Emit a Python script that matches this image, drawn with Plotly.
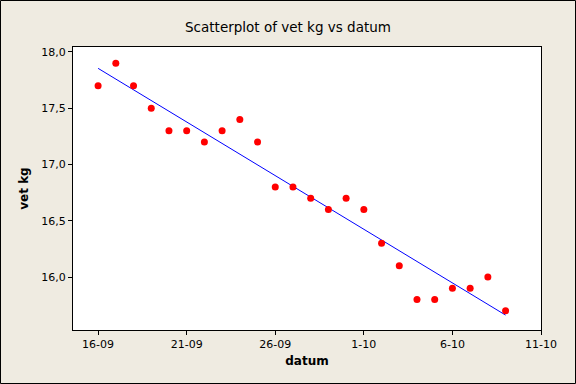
import numpy as np
import plotly.graph_objects as go

dates = ["2000-09-16", "2000-09-17", "2000-09-18", "2000-09-19", "2000-09-20", "2000-09-21",
         "2000-09-22", "2000-09-23", "2000-09-24", "2000-09-25", "2000-09-26", "2000-09-27",
         "2000-09-28", "2000-09-29", "2000-09-30", "2000-10-01", "2000-10-02", "2000-10-03",
         "2000-10-04", "2000-10-05", "2000-10-06", "2000-10-07", "2000-10-08", "2000-10-09"]
vet_kg = [17.7, 17.9, 17.7, 17.5, 17.3, 17.3, 17.2, 17.3, 17.4, 17.2, 16.8, 16.8,
          16.7, 16.6, 16.7, 16.6, 16.3, 16.1, 15.8, 15.8, 15.9, 15.9, 16.0, 15.7]
tick_dates = ["2000-09-16", "2000-09-21", "2000-09-26", "2000-10-01", "2000-10-06", "2000-10-11"]
tick_labels = ["16-09", "21-09", "26-09", "1-10", "6-10", "11-10"]
y_ticks = [16.0, 16.5, 17.0, 17.5, 18.0]

# regression line
d = np.array([np.datetime64(s) for s in dates])
days = (d - d[0]).astype(float)
slope, intercept = np.polyfit(days, np.array(vet_kg), 1)
fit_x = [dates[0], dates[-1]]
fit_y = [intercept, intercept + slope * days[-1]]

W, H = 576, 384
L, R, T, B = 73, 35, 47, 54
pw, ph = W - L - R, H - T - B

fig = go.Figure()
fig.add_trace(go.Scatter(x=fit_x, y=fit_y, mode="lines",
                         line=dict(color="#0000FF", width=1), hoverinfo="skip"))
fig.add_trace(go.Scatter(x=dates, y=vet_kg, mode="markers",
                         marker=dict(color="#FF0000", size=7, line=dict(width=0))))

font = "Verdana, DejaVu Sans, sans-serif"
fig.update_layout(
    width=W, height=H,
    margin=dict(l=L, r=R, t=T, b=B, autoexpand=False),
    paper_bgcolor="#EFEBE1",
    plot_bgcolor="#FFFFFF",
    showlegend=False,
    separators=",.",
    font=dict(family=font, size=11, color="#000000"),
    title=dict(text="Scatterplot of vet kg vs datum", x=0.5, xanchor="center",
               y=1 - 27 / H, yanchor="middle",
               font=dict(family=font, size=13.5, color="#000000")),
    xaxis=dict(type="date", range=["2000-09-14 14:00", "2000-10-11"],
               tickvals=tick_dates, ticktext=tick_labels,
               showgrid=False, zeroline=False, automargin=False,
               showline=True, linecolor="#000000", linewidth=1, mirror=True,
               ticks="outside", ticklen=4, tickcolor="#000000",
               tickfont=dict(size=11),
               title=dict(text="<b>datum</b>", standoff=6, font=dict(size=12))),
    yaxis=dict(range=[15.53, 18.044], tickvals=y_ticks, tickformat=".1f",
               showgrid=False, zeroline=False, automargin=False,
               showline=True, linecolor="#000000", linewidth=1, mirror=True,
               ticks="outside", ticklen=4, tickcolor="#000000",
               tickfont=dict(size=11),
               title=dict(text="<b>vet kg</b>", standoff=10, font=dict(size=12))),
    shapes=[dict(type="rect", xref="paper", yref="paper",
                 x0=(-L + 0.5) / pw, x1=(W - L - 0.5) / pw,
                 y0=(-B + 0.5) / ph, y1=(ph + T - 0.5) / ph,
                 line=dict(color="#000000", width=1), layer="above")],
)

fig.write_html("out.html", config={"displayModeBar": False},
               post_script="document.body.style.margin='0';document.body.style.overflow='hidden';")
